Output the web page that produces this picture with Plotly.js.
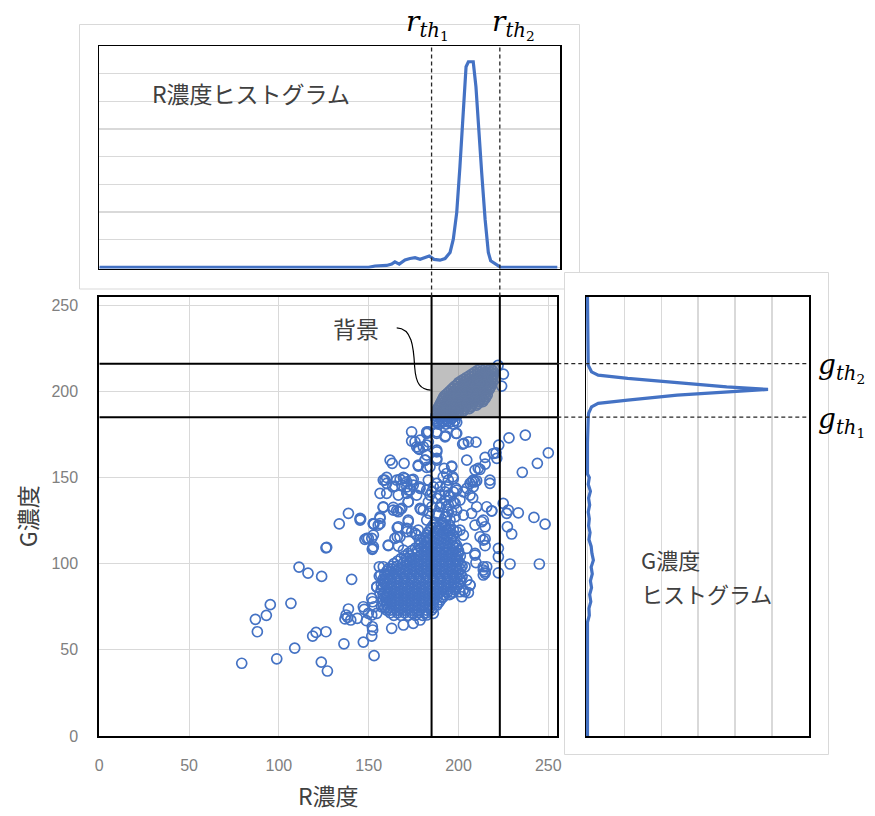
<!DOCTYPE html>
<html><head><meta charset="utf-8">
<script src="https://cdn.plot.ly/plotly-3.0.1.min.js"></script>
<style>html,body{margin:0;padding:0;background:#fff}#chart{width:875px;height:816px}</style>
</head><body><div id="chart"></div>
<script>
// ---- thresholds ----
const rTh1 = 185, rTh2 = 223, gTh1 = 185, gTh2 = 216;

// ---- R histogram (top) ----
const rHistR = [0,150,153.5,160,162.8,164.6,167,170.2,173,175.8,178.6,181.3,183.7,186.4,189.7,192.5,195.3,197.1,199,200.8,202.7,204.2,205.5,208.2,209.7,211,212.9,214.8,216.6,217.9,222.2,223.5,255];
const rHistCount = [0,0,0.05,0.07,0.12,0.2,0.12,0.27,0.32,0.35,0.29,0.35,0.41,0.29,0.26,0.32,0.54,1.02,1.98,3.65,5.81,7.25,7.43,7.43,6.53,5.09,3.42,1.74,0.54,0.24,0.06,0,0];

// ---- G histogram (right) ----
const gHistG = [255,230,215.2,211.3,209.4,207.5,204.9,202.6,201.1,199.7,197.8,194.9,193,191,187.2,184.3,170,152,150,146,142,138,134,130,126,122,118,114,110,106,102,98,94,90,86,82,78,74,70,66,40,0];
const gHistCount = [0,0,0.02,0.11,0.29,1.09,2.43,3.77,4.89,3.77,2.43,1.09,0.29,0.11,0.03,0.02,0,0,0.05,0.02,0.08,0.03,0.06,0.02,0.05,0.03,0.07,0.04,0.1,0.12,0.16,0.1,0.13,0.08,0.11,0.06,0.09,0.04,0.05,0,0,0];

// ---- scatter: background cluster [R, G] ----
const bgPts = [
[212,213],[215,213],[218,213],
[209,211],[212,211],[215,211],[218,211],
[206,209],[209,209],[212,209],[215,209],[218,209],
[203,207],[206,207],[209,207],[212,207],[215,207],[218,207],
[200,205],[203,205],[206,205],[209,205],[212,205],[215,205],[218,205],
[198,203],[201,203],[204,203],[207,203],[210,203],[213,203],[216,203],[218,203],
[196,201],[199,201],[202,201],[205,201],[208,201],[211,201],[214,201],[217,201],
[194,199],[197,199],[200,199],[203,199],[206,199],[209,199],[212,199],[215,199],
[192,197],[195,197],[198,197],[201,197],[204,197],[207,197],[210,197],[213,197],[215,197],
[191,195],[194,195],[197,195],[200,195],[203,195],[206,195],[209,195],[212,195],[214,195],
[190,193],[193,193],[196,193],[199,193],[202,193],[205,193],[208,193],[211,193],
[189,191],[192,191],[195,191],[198,191],[201,191],[204,191],[207,191],
[188,189],[191,189],[194,189],[197,189],[200,189],[203,189],
[188,187],[191,187],[194,187],[197,187],[200,187],
[188,185],[191,185],[194,185],[197,185],
[188,183],[191,183],[194,183],[198,183],
[189,181],[193,181],[197,181],
[210.5,212],[213.5,212],[216.5,212],[219,212],
[207.5,210],[210.5,210],[213.5,210],[216.5,210],[219,210],
[204.5,208],[207.5,208],[210.5,208],[213.5,208],[216.5,208],[219,208],
[201.5,206],[204.5,206],[207.5,206],[210.5,206],[213.5,206],[216.5,206],[219,206],
[199.5,204],[202.5,204],[205.5,204],[208.5,204],[211.5,204],[214.5,204],[217.5,204],
[197,202],[200,202],[203,202],[206,202],[209,202],[212,202],[215,202],[217.5,202],
[195,200],[198,200],[201,200],[204,200],[207,200],[210,200],[213,200],[216,200],
[193,198],[196,198],[199,198],[202,198],[205,198],[208,198],[211,198],[214,198],[216,198],
[191.5,196],[194.5,196],[197.5,196],[200.5,196],[203.5,196],[206.5,196],[209.5,196],[212.5,196],[215,196],
[190.5,194],[193.5,194],[196.5,194],[199.5,194],[202.5,194],[205.5,194],[208.5,194],[211.5,194],[213.5,194],
[189.5,192],[192.5,192],[195.5,192],[198.5,192],[201.5,192],[204.5,192],[207.5,192],[210,192],
[188.5,190],[191.5,190],[194.5,190],[197.5,190],[200.5,190],[203.5,190],[206,190],
[188,188],[190,188],[193,188],[196,188],[199,188],[202,188],
[187.5,186],[190,186],[193,186],[196,186],[199,186],
[187.5,184],[190,184],[193,184],[196,184],
[188,182],[191,182],[195,182],[199,182],
[222,215],[225,210],[224,203],[220,213],[219,208]
];

// ---- scatter: main cluster [R, G] ----
const blobPts = [
[164,70],[168,70],[172,70],[176,70],[180,70],
[160,73],[162,73],[166,73],[170,73],[174,73],[178,73],[182,73],[185,73],
[158,76],[160,76],[164,76],[168,76],[172,76],[176,76],[180,76],[184,76],[188,76],
[158,79],[162,79],[166,79],[170,79],[174,79],[178,79],[182,79],[186,79],[190,79],
[158,82],[160,82],[164,82],[168,82],[172,82],[176,82],[180,82],[184,82],[188,82],[192,82],[195,82],
[157,85],[162,85],[166,85],[170,85],[174,85],[178,85],[182,85],[186,85],[190,85],[194,85],[198,85],
[157,88],[160,88],[164,88],[168,88],[172,88],[176,88],[180,88],[184,88],[188,88],[192,88],[196,88],[200,88],
[158,91],[162,91],[166,91],[170,91],[174,91],[178,91],[182,91],[186,91],[190,91],[194,91],[198,91],[201,91],
[159,94],[161,94],[165,94],[169,94],[173,94],[177,94],[181,94],[185,94],[189,94],[193,94],[197,94],[201,94],
[161,97],[163,97],[167,97],[171,97],[175,97],[179,97],[183,97],[187,97],[191,97],[195,97],[199,97],[201,97],
[164,100],[169,100],[173,100],[177,100],[181,100],[185,100],[189,100],[193,100],[197,100],[201,100],
[168,103],[171,103],[175,103],[179,103],[183,103],[187,103],[191,103],[195,103],[199,103],
[172,106],[177,106],[181,106],[185,106],[189,106],[193,106],[197,106],[200,106],
[176,109],[179,109],[183,109],[187,109],[191,109],[195,109],[199,109],
[179,112],[182,112],[186,112],[190,112],[194,112],[198,112],
[182,115],[184,115],[188,115],[192,115],[196,115],
[183,118],[187,118],[191,118],[195,118],
[185,121],[189,121],[193,121],
[187,124],[191,124],
[162,71.5],[166,71.5],[170,71.5],[174,71.5],[178,71.5],[182,71.5],
[159,74.5],[161,74.5],[164,74.5],[168,74.5],[172,74.5],[176,74.5],[180,74.5],[184,74.5],[186,74.5],
[160,77.5],[162,77.5],[166,77.5],[170,77.5],[174,77.5],[178,77.5],[182,77.5],[186,77.5],[189,77.5],
[159,80.5],[160,80.5],[164,80.5],[168,80.5],[172,80.5],[176,80.5],[180,80.5],[184,80.5],[188,80.5],[191,80.5],
[159,83.5],[162,83.5],[166,83.5],[170,83.5],[174,83.5],[178,83.5],[182,83.5],[186,83.5],[190,83.5],[194,83.5],[197,83.5],
[158,86.5],[160,86.5],[164,86.5],[168,86.5],[172,86.5],[176,86.5],[180,86.5],[184,86.5],[188,86.5],[192,86.5],[196,86.5],[199,86.5],
[158,89.5],[162,89.5],[166,89.5],[170,89.5],[174,89.5],[178,89.5],[182,89.5],[186,89.5],[190,89.5],[194,89.5],[198,89.5],[201,89.5],
[160,92.5],[163,92.5],[167,92.5],[171,92.5],[175,92.5],[179,92.5],[183,92.5],[187,92.5],[191,92.5],[195,92.5],[199,92.5],[202,92.5],
[160,95.5],[162,95.5],[165,95.5],[169,95.5],[173,95.5],[177,95.5],[181,95.5],[185,95.5],[189,95.5],[193,95.5],[197,95.5],[200,95.5],
[163,98.5],[166,98.5],[171,98.5],[175,98.5],[179,98.5],[183,98.5],[187,98.5],[191,98.5],[195,98.5],[199,98.5],[202,98.5],
[166,101.5],[171,101.5],[173,101.5],[177,101.5],[181,101.5],[185,101.5],[189,101.5],[193,101.5],[197,101.5],[200,101.5],
[170,104.5],[173,104.5],[179,104.5],[183,104.5],[187,104.5],[191,104.5],[195,104.5],[199,104.5],[201,104.5],
[174,107.5],[177,107.5],[181,107.5],[185,107.5],[189,107.5],[193,107.5],[197,107.5],[200,107.5],
[178,110.5],[181,110.5],[185,110.5],[189,110.5],[193,110.5],[197,110.5],[199,110.5],
[181,113.5],[184,113.5],[188,113.5],[192,113.5],[196,113.5],
[183,116.5],[186,116.5],[190,116.5],[194,116.5],[197,116.5],
[184,119.5],[189,119.5],[193,119.5],[195,119.5],
[186,122.5],[190,122.5],[193,122.5]
];

// ---- scatter: scattered points [R, G] ----
const outPts = [
[79.3,42.2],[98.8,44.8],[108.8,51],[88,60.5],[86.9,67.7],[93,70],[95.2,76.2],[106.7,77],
[111.2,98],[116.2,94.5],[123.8,92.6],[126.2,109.2],[120.7,60.1],[118.8,58],[126.2,60.5],
[123.6,42.9],[127,37.7],[136.2,53.5],[147,54.5],[153,46.6],[138.7,73.7],[136.8,67.9],
[138.3,68.9],[140,67.3],[137.4,70.2],[143.6,68.3],[147.5,73.5],[151.7,79.8],[152.2,77.9],
[153,75],[152,63.4],[152.2,61.5],[151.7,58],[148.7,66.9],[154.5,86.4],[155.9,98.2],
[155.9,92.8],[140.5,90.9],[149.8,71.2],[147,75],[154.5,71.2],[151.7,70.2],[157.2,75],
[158.1,98.2],[156.7,93.4],[159.1,90.5],[156.3,82.8],[154.5,86.6],[162.8,62.5],[169.3,64.4],
[174.8,65.4],[178.6,67.3],[182.3,70.2],[186,71.2],[203.6,98.2],[204.6,90.5],[202.7,84.7],
[206.4,87.6],[201.8,80.8],[196.2,82.8],[191.5,80.8],
[138.7,129.2],[133.6,123.1],[145.5,125.9],[152.6,123.1],[148.9,114.7],[151.7,114.7],
[152,108.3],[126.6,109.5],[145.2,126.3],[152.9,122.9],[156.3,123.3],[156.3,127.1],
[149.8,114.7],[147.9,114.1],[152.2,108.9],[152.6,109.8],[145.2,125.3],
[165.9,120.8],[165.9,115.6],[172,124.3],[160.9,110.4],[171.2,118.5],[176.7,116.6],
[178.2,113.7],[169.3,107.9],[173.9,103.1],[160.9,110.8],[166.5,110.2],[164.6,114.7],
[167.4,115.6],[152.6,116.6],[172,125.3],[171.2,120.5],[166.5,121.4],[173.9,118.5],
[175.8,117.6],[177.6,119.5],[158.1,132.7],[156.3,126.3],[152.6,123.3],[155.3,122.4],
[158.1,133],[163.7,131.1],[166.5,130.1],[168.4,132.1],[172,135.9],[179,131.5],[183.7,129.2],
[167.5,131.5],[163.7,132.7],[165.6,130.7],[178.6,132.1],[180.4,131.1],[183.2,135.9],[185.1,133],
[158.1,148.5],[160,150],[165.6,148.5],[167.5,148.9],[170.2,149.4],[174.8,148.9],[168.4,145.6],
[171.2,144.6],[173,142.7],[164.6,145],[163.4,144.6],[178.2,144.6],[156.3,140.8],[160,140.8],
[166.5,139.8],[171.2,140.8],[176.7,139.8],[159,148.5],[160,146.6],[169.3,150],[171.2,147.5],
[173.9,148.5],[174.8,145.6],[178.6,143.7],[172,142.7],[172,135.9],
[182.3,142.7],[185.1,141.7],[189.7,144.6],[192.5,141.7],[194.3,139.8],[197.1,141.7],
[187.9,137.9],[190.6,135],[194.3,134],[197.1,135.9],[199,131.1],[188.8,128.2],[193.4,127.2],
[196.2,130.1],[183.2,148.5],[186,144.6],[187.9,146.6],[189.7,139.8],[184.1,139.8],[189.7,133],
[192.5,136.9],[194.3,130.1],[187.9,129.2],[182.3,125.3],[191.5,123.3],[195.3,125.3],
[197.1,119.5],[187.9,121.4],
[193.4,152.3],[197.1,149.4],[193.4,144.6],[199,142.7],[195.3,138.8],[198.1,135],[193.4,133],
[200.8,136.9],[192.5,127.2],[198.1,127.2],[202.7,128.2],[195.3,121.4],[199,118.5],
[197.1,109.8],[198.1,102.1],[197.1,92.4],
[173.9,176.5],[173.9,171.1],[182.3,176.5],[187.9,176.5],[192.7,174.2],[198.6,175.6],
[183.2,176.5],[187.9,175.6],[192.5,173.6],[199,175.6],
[203,169.8],[205.5,170.7],[209.7,170.5],[202.3,169.4],[228.1,173],[237.2,174.6],[222.4,168.8],
[220.9,164.3],[219.4,163.9],[221.3,161.1],[214.8,161.7],[214.8,157.8],[211,155.3],[212,154.7],
[209.2,154.3],[204.6,160.1],[243.9,158.2],[235.5,153],[250,164.3],[196.2,156.6],
[161.9,160.1],[163.1,158.2],[169.7,158.2],[177.6,156.6],[182.3,155.9],[181.5,160.1],
[187.9,160.1],[187.9,164.9],[182.3,163],[180.4,167.8],[176.7,167.8],[178.2,166.3],[175.8,170.7],
[178.6,171.7],[182.3,175.6],[183.2,170.7],[177.6,166.9],[182.3,168.8],[187.9,165.9],
[187.9,161.1],[181.3,160.1],[177.6,157.2],[184.1,156.2],
[192,155.3],[196.2,156.2],[191.5,150.4],[196.8,150.4],[194.3,148.5],[198.6,143.7],
[204.6,143.7],[207.4,147.5],[208.2,148.5],[210.1,148.1],[217.5,148.5],[217.5,146.6],
[206.4,139.8],[207.9,138.2],[202.7,141.7],[209.2,147.5],[206.4,146.6],[208.2,144.6],
[224.9,135],[227.7,131.1],[226.8,129.2],[233.3,129.5],[242,126.8],[248.2,122.9],[227.2,121.4],
[229.6,117.2],[218.5,130.5],[215.7,133],[213.8,125.3],[214.8,121.4],[212,115.6],[214.8,114.3],
[214.8,110.4],[209.2,106],[209.7,100.6],[204.6,108.9],
[222.2,108.9],[222.2,104],[222.2,94.7],[228.7,99.8],[245,99.8],[214.8,94.4],[213.8,96.3],
[215.7,98.2],[218.5,130.7],[210.1,133],[207.3,129.2],[212.9,124.3],[209.2,122.4],[200.8,119.5],
[202.7,116.6],[213.8,113.7],[209.2,105],[213.8,98.2],[214.8,95.3],[213.8,93.4],[206.4,87.6],
[203.6,83.7],[205.5,83.2],[200.8,83.7]
];

// ---- build traces ----
const all = bgPts.concat(blobPts, outPts);
const blue = '#4472C4';
const traces = [
  {type:'scatter', mode:'markers', x: all.map(p=>p[0]), y: all.map(p=>p[1]),
   xaxis:'x', yaxis:'y', cliponaxis:true,
   marker:{symbol:'circle-open', size:10, color:blue, line:{width:1.7, color:blue}}, hoverinfo:'skip'},
  {type:'scatter', mode:'lines', x: rHistR, y: rHistCount, xaxis:'x2', yaxis:'y2',
   line:{color:blue, width:3.2}, hoverinfo:'skip'},
  {type:'scatter', mode:'lines', x: gHistCount, y: gHistG, xaxis:'x3', yaxis:'y3',
   line:{color:blue, width:3.2}, hoverinfo:'skip'}
];

// pixel -> paper helpers
const W = 875, H = 816;
const px = v => v / W, py = v => (H - v) / H;

const mainX = [px(99.3), px(557.3)], mainY = [py(736), py(296.5)];
const topY = [py(268.5), py(46)];
const gX = [px(586), px(809)];

const tickFont = {family:'Liberation Sans, Arial, sans-serif', size:16, color:'#808080'};
const jp = 'Noto Sans CJK JP, sans-serif';
const txtCol = '#404040';
const math = 'DejaVu Serif, Liberation Serif, serif';

const layout = {
  width: W, height: H, margin:{l:0,r:0,t:0,b:0},
  paper_bgcolor:'#ffffff', plot_bgcolor:'rgba(0,0,0,0)', showlegend:false,
  xaxis:{domain:mainX, range:[0,255], tickvals:[0,50,100,150,200,250], showgrid:true, gridcolor:'#d9d9d9',
    gridwidth:1, zeroline:false, showline:true, mirror:true, linecolor:'#000', linewidth:2, ticks:'',
    tickfont:tickFont, ticklabelstandoff:14, fixedrange:true,
    title:{text:'R濃度', font:{family:jp, size:23, color:txtCol}, standoff:16}},
  yaxis:{domain:mainY, range:[0,255], tickvals:[0,50,100,150,200,250], showgrid:true, gridcolor:'#d9d9d9',
    gridwidth:1, zeroline:false, showline:true, mirror:true, linecolor:'#000', linewidth:2, ticks:'',
    tickfont:tickFont, ticklabelstandoff:16, fixedrange:true,
    title:{text:'G濃度', font:{family:jp, size:23, color:txtCol}, standoff:7}},
  xaxis2:{domain:[px(99.3), px(560)], anchor:'y2', range:[0, 255*(560-99.3)/(557.3-99.3)], showgrid:false,
    zeroline:false, showticklabels:false, ticks:'', showline:true, mirror:true, linecolor:'#000', linewidth:1.5},
  yaxis2:{domain:topY, anchor:'x2', range:[-0.04,8], dtick:1, showgrid:true, gridcolor:'#d9d9d9', gridwidth:1.5,
    zeroline:false, showticklabels:false, ticks:'', showline:true, mirror:true, linecolor:'#000', linewidth:1.5},
  xaxis3:{domain:gX, anchor:'y3', range:[-0.04,6], dtick:1, showgrid:true, gridcolor:'#d9d9d9', gridwidth:1.5,
    zeroline:false, showticklabels:false, ticks:'', showline:true, mirror:true, linecolor:'#000', linewidth:1.5},
  yaxis3:{domain:mainY, anchor:'x3', range:[0,255], showgrid:false, zeroline:false, showticklabels:false,
    ticks:'', showline:true, mirror:true, linecolor:'#000', linewidth:1.5},
  shapes:[
    {type:'path', xref:'paper', yref:'paper', layer:'below',
     path:`M ${px(564)},${py(289)} L ${px(79.5)},${py(289)} L ${px(79.5)},${py(24.5)} L ${px(579.5)},${py(24.5)} L ${px(579.5)},${py(272.5)}`,
     line:{color:'#d9d9d9', width:1}},
    {type:'rect', xref:'paper', yref:'paper', layer:'below', x0:px(564.5), x1:px(828.5), y0:py(754.5), y1:py(272.5),
     line:{color:'#d9d9d9', width:1}},
    {type:'rect', xref:'x', yref:'y', layer:'above', x0:rTh1, x1:rTh2, y0:gTh1, y1:gTh2,
     fillcolor:'rgba(128,128,128,0.5)', line:{color:'#7f7f7f', width:1.5}},
    {type:'line', xref:'x', yref:'y', layer:'above', x0:rTh1, x1:rTh1, y0:0, y1:255, line:{color:'#000', width:2}},
    {type:'line', xref:'x', yref:'y', layer:'above', x0:rTh2, x1:rTh2, y0:0, y1:255, line:{color:'#000', width:2}},
    {type:'line', xref:'x', yref:'y', layer:'above', x0:0, x1:255, y0:gTh1, y1:gTh1, line:{color:'#000', width:2}},
    {type:'line', xref:'x', yref:'y', layer:'above', x0:0, x1:255, y0:gTh2, y1:gTh2, line:{color:'#000', width:2}},
    {type:'line', xref:'x', yref:'paper', layer:'above', x0:rTh1, x1:rTh1, y0:mainY[1], y1:py(47), line:{color:'#262626', width:1.3, dash:'4px,3px'}},
    {type:'line', xref:'x', yref:'paper', layer:'above', x0:rTh2, x1:rTh2, y0:mainY[1], y1:py(47), line:{color:'#262626', width:1.3, dash:'4px,3px'}},
    {type:'line', xref:'paper', yref:'y', layer:'above', x0:mainX[1], x1:px(807), y0:gTh1, y1:gTh1, line:{color:'#262626', width:1.3, dash:'4px,3px'}},
    {type:'line', xref:'paper', yref:'y', layer:'above', x0:mainX[1], x1:px(807), y0:gTh2, y1:gTh2, line:{color:'#262626', width:1.3, dash:'4px,3px'}},
    {type:'path', xref:'x', yref:'y', layer:'above',
     path:'M 165.6,236.8 C 174,236.5 175,226 175.6,214 C 176.3,204 179,201 184.5,200.7', line:{color:'#000', width:1.2}}
  ],
  annotations:[
    {xref:'paper', yref:'paper', x:px(150), y:py(93), xanchor:'left', yanchor:'middle', showarrow:false,
     text:'R濃度ヒストグラム', font:{family:jp, size:23, color:txtCol}},
    {xref:'paper', yref:'paper', x:px(639), y:py(559), xanchor:'left', yanchor:'middle', showarrow:false,
     text:'G濃度', font:{family:jp, size:22, color:txtCol}},
    {xref:'paper', yref:'paper', x:px(639), y:py(593), xanchor:'left', yanchor:'middle', showarrow:false,
     text:'ヒストグラム', font:{family:jp, size:22, color:txtCol}},
    {xref:'paper', yref:'paper', x:px(356), y:py(328), xanchor:'center', yanchor:'middle', showarrow:false,
     text:'背景', font:{family:jp, size:23, color:txtCol}},
    {xref:'paper', yref:'paper', x:px(404), y:py(24), xanchor:'left', yanchor:'middle', showarrow:false,
     text:'<i>r</i><sub><i>th</i><sub>1</sub></sub>', font:{family:math, size:28, color:'#000'}},
    {xref:'paper', yref:'paper', x:px(490), y:py(24), xanchor:'left', yanchor:'middle', showarrow:false,
     text:'<i>r</i><sub><i>th</i><sub>2</sub></sub>', font:{family:math, size:28, color:'#000'}},
    {xref:'paper', yref:'paper', x:px(816), y:py(368), xanchor:'left', yanchor:'middle', showarrow:false,
     text:'<i>g</i><sub><i>th</i><sub>2</sub></sub>', font:{family:math, size:28, color:'#000'}},
    {xref:'paper', yref:'paper', x:px(816), y:py(422), xanchor:'left', yanchor:'middle', showarrow:false,
     text:'<i>g</i><sub><i>th</i><sub>1</sub></sub>', font:{family:math, size:28, color:'#000'}}
  ]
};

Plotly.newPlot('chart', traces, layout, {staticPlot:true, displayModeBar:false});
</script>
</body></html>
